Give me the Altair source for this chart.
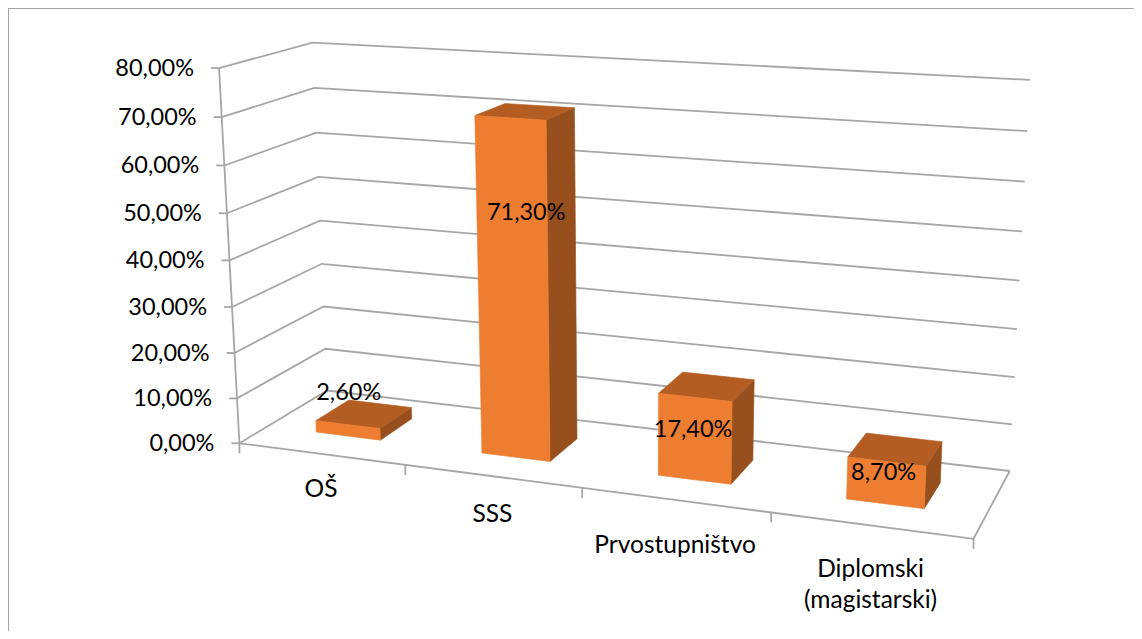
import numpy as np
import pandas as pd
import altair as alt

categories = ["OŠ", "SSS", "Prvostupništvo", "Diplomski\n(magistarski)"]
values = [2.6, 71.3, 17.4, 8.7]
value_labels = ["2,60%", "71,30%", "17,40%", "8,70%"]
y_ticks = [0, 10, 20, 30, 40, 50, 60, 70, 80]
y_tick_labels = ["0,00%", "10,00%", "20,00%", "30,00%", "40,00%", "50,00%", "60,00%", "70,00%", "80,00%"]

# Camera: fit a perspective projection from (category, depth, value) to the page
CAL_WORLD = [(0,0,0),(0,0,80),(0,1,0),(0,1,80),(4,1,0),(4,1,80),(4,0,0),(1,0,0),(2,0,0),(3,0,0),(0,0,40),(0,1,40),(4,1,40)]
CAL_PAGE = [(241,442),(218,68),(326,393),(313,43),(1010,468),(1030,81),(973,540),(405,464),(582,489),(771,514),(230,259),(320,220),(1020,280)]
A, b = [], []
for (X, Y, Z), (u, v) in zip(CAL_WORLD, CAL_PAGE):
    A.append([X, Y, Z, 1, 0, 0, 0, 0, -u*X, -u*Y, -u*Z]); b.append(u)
    A.append([0, 0, 0, 0, X, Y, Z, 1, -v*X, -v*Y, -v*Z]); b.append(v)
p = np.linalg.lstsq(np.array(A, float), np.array(b, float), rcond=None)[0]
P = np.append(p, 1.0).reshape(3, 4)


def proj(c, d, v):
    q = P @ np.array([c, d, v, 1.0])
    return float(q[0] / q[2]), float(q[1] / q[2])


BAR_HALF = 0.197
BAR_D0, BAR_D1 = 0.31, 0.70
FRONT, TOP, SIDE = "#ED7D31", "#B35D22", "#97501D"
GRID = "#A6A6A6"
FONT = "Lato"
FS_TICK = 23.5
FS_CAT = 24.5
FS_VAL = 23.5

W, H = 1126, 623
xs = alt.X("x:Q", scale=alt.Scale(domain=[8, 8 + W], nice=False, zero=False), axis=None)
ys = alt.Y("y:Q", scale=alt.Scale(domain=[8 + H, 8], nice=False, zero=False), axis=None)


def path(points, key=0):
    return [{"x": x, "y": y, "k": key, "o": i} for i, (x, y) in enumerate(points)]


lines = []
k = 0
for t in y_ticks:
    lines += path([proj(0, 0, t), proj(0, 1, t), proj(4, 1, t)], k); k += 1
    fx, fy = proj(0, 0, t)
    lines += path([(fx - 8, fy), (fx, fy)], k); k += 1
lines += path([proj(0, 0, 0), proj(0, 0, 80)], k); k += 1
lines += path([proj(0, 0, 0), proj(4, 0, 0), proj(4, 1, 0)], k); k += 1
for c in range(5):
    fx, fy = proj(c, 0, 0)
    lines += path([(fx, fy), (fx, fy + 10)], k); k += 1

border_pts = [(1134, 8.5), (8.5, 8.5), (8.5, 631)]


def line_layer(rows, color, width):
    return alt.Chart(pd.DataFrame(rows)).mark_line(color=color, strokeWidth=width, clip=True).encode(
        x=xs, y=ys, detail="k:N", order="o:Q")


def poly_layer(rows, color):
    return alt.Chart(pd.DataFrame(rows)).mark_line(fill=color, stroke=color, strokeWidth=0.6).encode(
        x=xs, y=ys, detail="k:N", order="o:Q")


fronts, tops, sides = [], [], []
for i, val in enumerate(values):
    a, z = i + 0.5 - BAR_HALF, i + 0.5 + BAR_HALF
    fronts += path([proj(a, BAR_D0, 0), proj(z, BAR_D0, 0), proj(z, BAR_D0, val), proj(a, BAR_D0, val), proj(a, BAR_D0, 0)], i)
    tops += path([proj(a, BAR_D0, val), proj(z, BAR_D0, val), proj(z, BAR_D1, val), proj(a, BAR_D1, val), proj(a, BAR_D0, val)], i)
    sides += path([proj(z, BAR_D0, 0), proj(z, BAR_D1, 0), proj(z, BAR_D1, val), proj(z, BAR_D0, val), proj(z, BAR_D0, 0)], i)

tick_rows = [{"x": proj(0, 0, t)[0] - 25, "y": proj(0, 0, t)[1] + 1, "t": s} for t, s in zip(y_ticks, y_tick_labels)]
tick_text = alt.Chart(pd.DataFrame(tick_rows)).mark_text(font=FONT, fontSize=FS_TICK, align="right", baseline="middle", color="#000000").encode(x=xs, y=ys, text="t:N")

CAT_DY = [36, 39, 46, 45]
cat_rows = []
for i, s in enumerate(categories):
    fx, fy = proj(i + 0.5, 0, 0)
    cat_rows.append({"x": fx, "y": fy + CAT_DY[i], "t": s})
cat_text = alt.Chart(pd.DataFrame(cat_rows)).mark_text(font=FONT, fontSize=FS_CAT, align="center", baseline="middle", color="#000000", lineBreak="\n", lineHeight=31).encode(x=xs, y=ys, text="t:N")

LABEL_OFFSET = [(1, -32), (16, 95), (-2, 33), (-3, 11)]
lab_rows = []
for i, (val, s) in enumerate(zip(values, value_labels)):
    fx, fy = proj(i + 0.5, BAR_D0, val)
    lab_rows.append({"x": fx + LABEL_OFFSET[i][0], "y": fy + LABEL_OFFSET[i][1], "t": s})
lab_text = alt.Chart(pd.DataFrame(lab_rows)).mark_text(font=FONT, fontSize=FS_VAL, align="center", baseline="middle", color="#000000").encode(x=xs, y=ys, text="t:N")

chart = alt.layer(
    line_layer(path(border_pts, 0), "#A6A6A6", 1.2),
    line_layer(lines, GRID, 1.8),
    poly_layer(sides, SIDE),
    poly_layer(tops, TOP),
    poly_layer(fronts, FRONT),
    tick_text, cat_text, lab_text,
).properties(width=W, height=H, padding=0, autosize=alt.AutoSizeParams(type="none")).configure_view(stroke=None)

chart.save("out.html", embed_options={"renderer": "svg", "actions": False})
